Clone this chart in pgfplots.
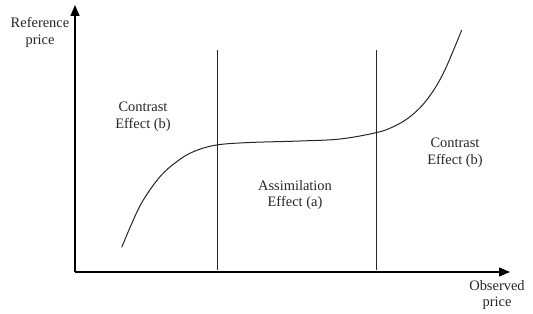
\documentclass[border=0pt]{standalone}
\usepackage{pgfplots}
\pgfplotsset{compat=1.18}
\usepackage{fontspec}
\setmainfont{Liberation Serif}
\usetikzlibrary{arrows.meta}
\tikzset{lbl/.style={font=\fontsize{14.5}{17}\selectfont, align=center, text=black!85, inner sep=0pt}}
\begin{document}
\begin{tikzpicture}[x=1bp,y=1bp]
\begin{axis}[
  scale only axis,
  width=435bp, height=267bp,
  xmin=75, xmax=510, ymin=42, ymax=309,
  axis lines=left,
  axis line style={line width=1.4bp, -{Triangle[length=11bp,width=9bp]}},
  xtick=\empty, ytick=\empty,
  clip=false,
]
\path (axis cs:0,0) rectangle (axis cs:533,314);
\addplot[black!85, line width=1bp, smooth, tension=0.6] coordinates {
(121.7,66.7) (133.3,94) (143.3,114) (160,137.3) (176.7,152.3) (193.3,162.3) (216.7,169) (250,171.5) (300,173) (340,175) (376,181.3) (393.3,187.3) (410,197.3) (426.7,214) (443.3,240.7) (461.7,284)
};
\addplot[black!85, line width=1bp] coordinates {(217,44) (217,264)};
\addplot[black!85, line width=1bp] coordinates {(376,44) (376,264)};
\node[lbl] at (axis cs:143,197) {Contrast\\Effect (b)};
\node[lbl] at (axis cs:295,119) {Assimilation\\Effect (a)};
\node[lbl] at (axis cs:455,161) {Contrast\\Effect (b)};
\node[lbl] at (axis cs:40,282) {Reference\\price};
\node[lbl] at (axis cs:497,19) {Observed\\price};
\end{axis}
\end{tikzpicture}
\end{document}
